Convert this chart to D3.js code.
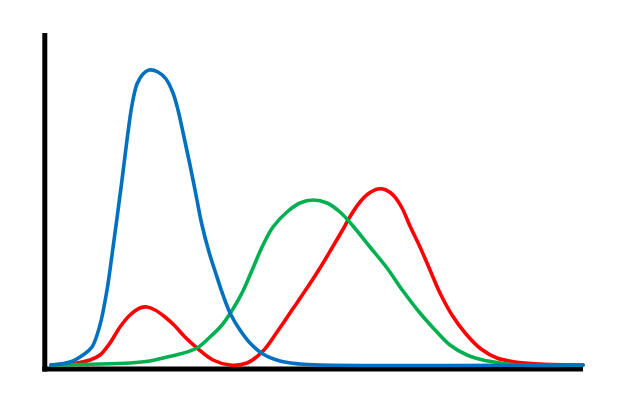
<!DOCTYPE html>
<html><head><meta charset="utf-8">
<script src="https://cdn.jsdelivr.net/npm/d3@7"></script>
<style>html,body{margin:0;padding:0;background:#fff;}</style>
</head><body><svg id="c" width="625" height="417"></svg>
<script>
const blueX = [0,19,32,41,49,56,61,66,71,76,81,86,92,98,107,115,122,127,133,139,145,151,158,165,172,180,189,199,212,229,249,269,532];
const blueY = [0,3,10,18,40,75,110,147,185,225,260,281,291,295,293,286,272,255,228,200,170,140,113,91,70,50,35,22,11,4,1,0,0];
const redX = [0,26,39,49,59,69,79,89,96,104,114,124,134,146,162,179,196,212,226,241,256,269,281,291,300,309,317,327,335,343,351,359,369,379,389,401,415,430,446,464,489,532];
const redY = [0,2,5,10,22,38,50,57,58,55,48,39,28,17,5,0,2,14,33,55,77,97,117,134,150,163,171,176,175,169,157,139,118,95,72,50,31,16,7,3,1,0];
const greenX = [0,79,99,112,129,146,159,171,182,192,202,212,222,236,249,262,276,289,302,319,336,352,369,386,399,416,432,449,466,532];
const greenY = [0,2,4,7,11,17,28,40,56,74,97,120,138,153,162,165,162,153,139,118,97,74,52,33,20,10,5,2,0,0];

const svg = d3.select("#c");
const x = d3.scaleLinear().domain([0,532]).range([51,583]);
const y = d3.scaleLinear().domain([0,332]).range([365,33]);

// axes
svg.append("line").attr("x1",44.8).attr("x2",44.8).attr("y1",y(332)).attr("y2",371.5)
  .attr("stroke","#000").attr("stroke-width",5);
svg.append("line").attr("x1",42.3).attr("x2",x(532)).attr("y1",369).attr("y2",369)
  .attr("stroke","#000").attr("stroke-width",5);

const series = [
  {xs: redX, ys: redY, color: "#FF0000"},
  {xs: greenX, ys: greenY, color: "#00B050"},
  {xs: blueX, ys: blueY, color: "#0070C0"}
];
const line = d3.line().x(d=>x(d[0])).y(d=>y(d[1])).curve(d3.curveCatmullRom.alpha(0.5));
series.forEach(s=>{
  const pts = s.xs.map((v,i)=>[v,s.ys[i]]);
  svg.append("path").datum(pts).attr("d",line).attr("fill","none")
    .attr("stroke",s.color).attr("stroke-width",3.6).attr("stroke-linejoin","round").attr("stroke-linecap","round");
});
</script></body></html>
